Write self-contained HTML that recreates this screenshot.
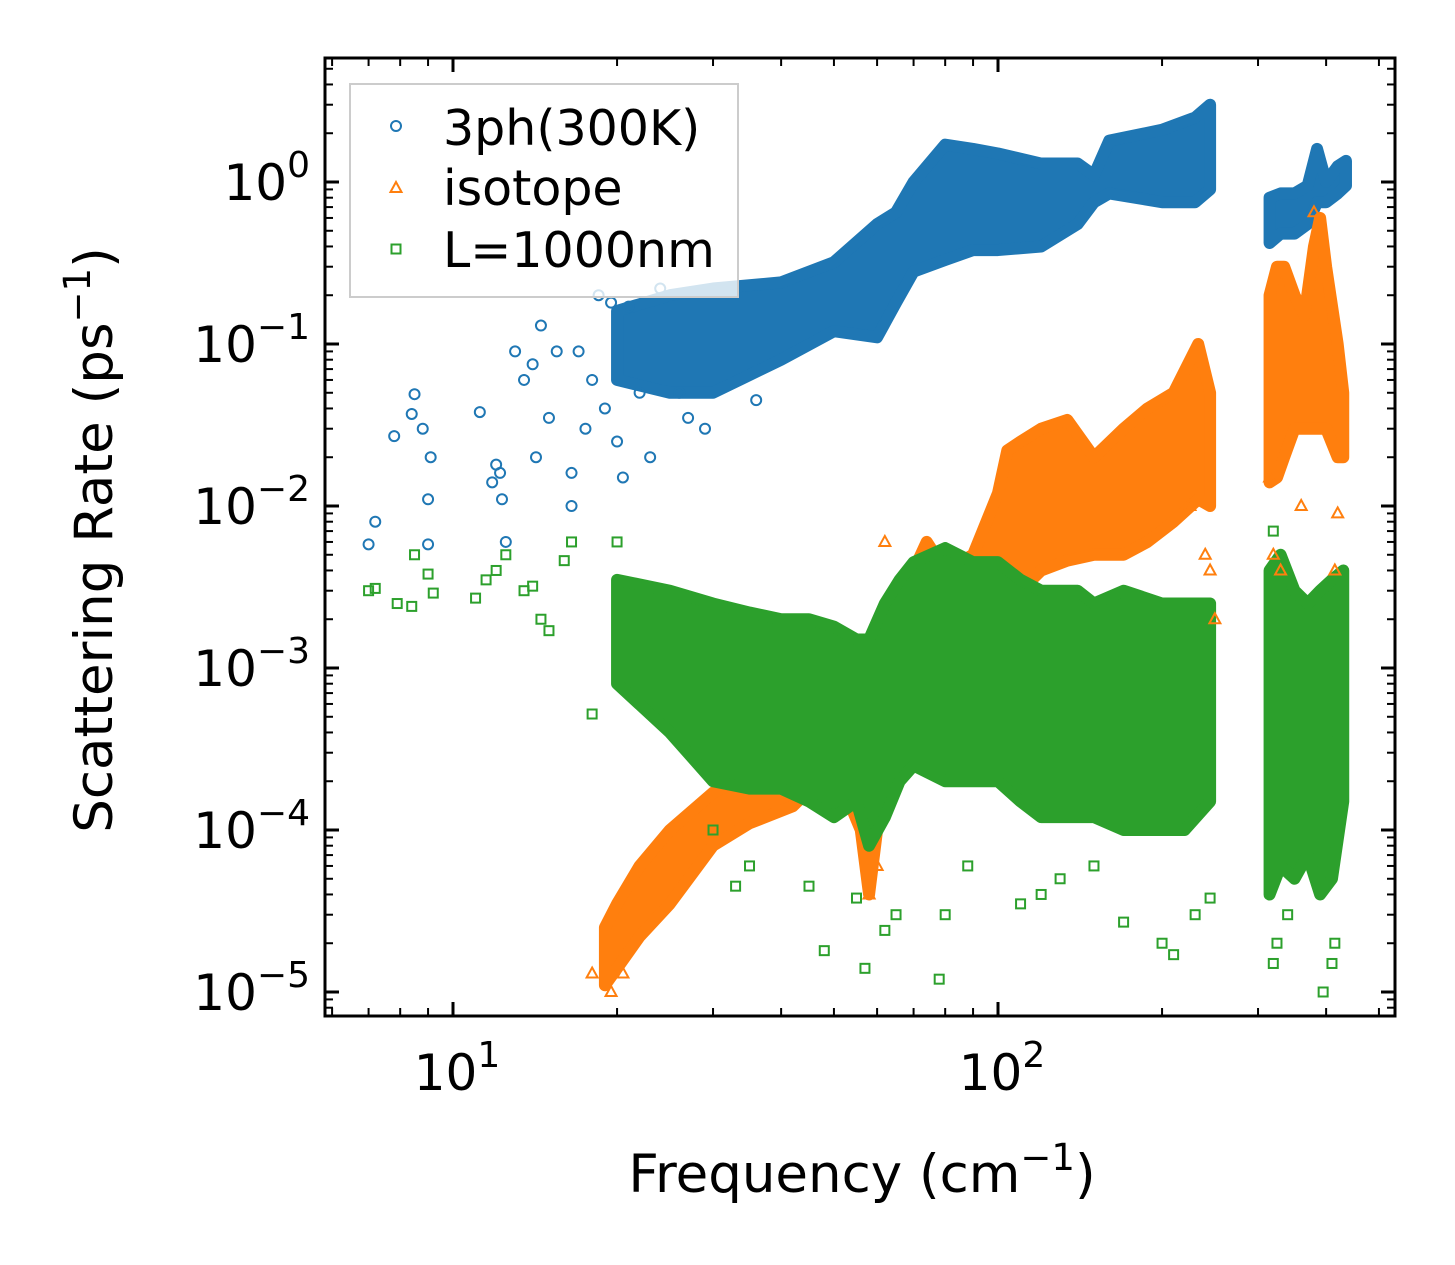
<!DOCTYPE html>
<html><head><meta charset="utf-8"><style>
body{margin:0;background:#fff}
svg{display:block;font-family:"DejaVu Sans","Liberation Sans",sans-serif}
</style></head><body>
<svg id="chart" width="1455" height="1265" viewBox="0 0 1455 1265" xmlns="http://www.w3.org/2000/svg">
<rect width="1455" height="1265" fill="#fff"/>
<g id="bands"></g><g id="points"></g><g id="axes"></g>
</svg>
<script>
// ---- data (frequency cm^-1, rate ps^-1) ----
const blueBandF = [20,25,30,40,50,60,65,70,80,90,100,120,140,150,160,200,230,245];
const blueBandLo = [0.06,0.05,0.05,0.08,0.12,0.11,0.18,0.28,0.33,0.38,0.38,0.4,0.55,0.75,0.85,0.75,0.75,0.9];
const blueBandHi = [0.16,0.2,0.22,0.24,0.32,0.55,0.65,1.0,1.7,1.6,1.5,1.3,1.3,1.1,1.8,2.1,2.5,3.0];
const blueBand2F = [315,330,350,370,385,400,420,435];
const blueBand2Lo = [0.42,0.48,0.48,0.55,0.75,0.75,0.85,0.95];
const blueBand2Hi = [0.8,0.85,0.85,0.95,1.6,1.0,1.25,1.35];
const orangeBandF = [19,20,22,25,30,35,42,50,56,58,60,65,70,74,80,90,100,104,110,120,134,150,170,188,210,233,245];
const orangeBandLo = [1.1e-5,1.4e-5,2.2e-5,3.5e-5,8e-5,1.1e-4,1.4e-4,2.5e-4,1e-4,4e-5,1e-4,3e-4,8e-4,1.5e-3,1.5e-3,1.5e-3,2e-3,2.6e-3,3e-3,4e-3,4.6e-3,5e-3,5e-3,6e-3,8e-3,1.1e-2,1e-2];
const orangeBandHi = [2.5e-5,3.5e-5,6e-5,1e-4,1.7e-4,2.2e-4,2.4e-4,5e-4,1.5e-3,2e-4,5e-4,2e-3,4e-3,6e-3,4e-3,5e-3,1.2e-2,2.2e-2,2.5e-2,3e-2,3.4e-2,2e-2,3e-2,4e-2,5e-2,0.1,5e-2];
const orangeBand2F = [315,325,335,350,365,380,390,400,420,430];
const orangeBand2Lo = [0.014,0.015,0.02,0.03,0.03,0.03,0.03,0.03,0.02,0.02];
const orangeBand2Hi = [0.2,0.3,0.3,0.2,0.15,0.4,0.6,0.3,0.1,0.05];
const greenBandF = [20,25,30,35,40,45,50,55,58,62,66,70,80,90,100,110,120,140,150,170,200,220,245];
const greenBandLo = [8e-4,4e-4,2e-4,1.8e-4,1.8e-4,1.5e-4,1.2e-4,1.5e-4,8e-5,1.2e-4,2e-4,2.5e-4,2e-4,2e-4,2e-4,1.5e-4,1.2e-4,1.2e-4,1.2e-4,1e-4,1e-4,1e-4,1.5e-4];
const greenBandHi = [3.5e-3,3e-3,2.5e-3,2.2e-3,2e-3,2e-3,1.8e-3,1.5e-3,1.5e-3,2.5e-3,3.5e-3,4.5e-3,5.5e-3,4.5e-3,4.5e-3,3.5e-3,3e-3,3e-3,2.5e-3,3e-3,2.5e-3,2.5e-3,2.5e-3];
const greenBand2F = [315,330,350,370,390,410,430];
const greenBand2Lo = [4e-5,6e-5,5e-5,7e-5,4e-5,5e-5,1.5e-4];
const greenBand2Hi = [4e-3,5e-3,3e-3,2.5e-3,3e-3,3.5e-3,4e-3];
const blueF = [7.0,7.2,7.8,8.4,8.5,8.8,9.0,9.1,9.0,11.2,11.8,12,12.3,12.5,12.2,13,13.5,14,14.5,14.2,15,15.5,16.5,16.5,17,17.5,18,18.5,19,20,20.5,22,23,19.5,21,24,26,27,29,36,31];
const blueR = [0.0058,0.008,0.027,0.037,0.049,0.03,0.011,0.02,0.0058,0.038,0.014,0.018,0.011,0.006,0.016,0.09,0.06,0.075,0.13,0.02,0.035,0.09,0.016,0.01,0.09,0.03,0.06,0.2,0.04,0.025,0.015,0.05,0.02,0.18,0.17,0.22,0.05,0.035,0.03,0.045,0.22];
const orangeF = [18,19.5,20.5,58,60,62,225,240,245,250,320,330,360,420,415,315,380];
const orangeR = [1.3e-5,1.0e-5,1.3e-5,4e-5,6e-5,6e-3,1e-2,5e-3,4e-3,2e-3,0.005,0.004,0.01,0.009,0.004,0.015,0.65];
const greenF = [7.0,7.2,7.9,8.4,8.5,9,9.2,11,11.5,12,12.5,13.5,14,14.5,15,16,16.5,18,20,25,30,33,35,45,48,55,57,62,65,78,80,88,110,120,130,150,170,200,210,230,245,320,325,340,395,410,415,320,400,420];
const greenR = [0.003,0.0031,0.0025,0.0024,0.005,0.0038,0.0029,0.0027,0.0035,0.004,0.005,0.003,0.0032,0.002,0.0017,0.0046,0.006,0.00052,0.006,0.0021,0.0001,0.000045,0.00006,0.000045,0.000018,0.000038,0.000014,0.000024,0.00003,0.000012,0.00003,0.00006,0.000035,0.00004,0.00005,0.00006,0.000027,0.00002,0.000017,0.00003,0.000038,0.000015,0.00002,0.00003,0.00001,0.000015,0.00002,0.007,0.0005,0.00035];
const xTickExp = [1,2];
const yTickExp = [0,-1,-2,-3,-4,-5];

// ---- axes ----
const L=325,R=1395,T=58,B=1016;
const X10=453, XDEC=545, Y0=182, YDEC=162;
const xs=f=>X10+(Math.log10(f)-1)*XDEC;
const ys=r=>Y0-Math.log10(r)*YDEC;
const NS='http://www.w3.org/2000/svg';
function mk(tag,attrs,parent){const e=document.createElementNS(NS,tag);for(const k in attrs)e.setAttribute(k,attrs[k]);parent.appendChild(e);return e;}
const bands=document.getElementById('bands'),pts=document.getElementById('points'),axes=document.getElementById('axes');
const svg=document.getElementById('chart');
const clip=mk('clipPath',{id:'pc'},svg);mk('rect',{x:L,y:T,width:R-L,height:B-T},clip);
bands.setAttribute('clip-path','url(#pc)');pts.setAttribute('clip-path','url(#pc)');

function band(F,Lo,Hi,color,name){
  let d='M'+F.map((f,i)=>xs(f)+','+ys(Hi[i])).join('L');
  for(let i=F.length-1;i>=0;i--)d+='L'+xs(F[i])+','+ys(Lo[i]);
  const p=mk('path',{d:d+'Z',fill:color,stroke:color,'stroke-width':12,'stroke-linejoin':'round'},bands);
  
  
}
function marker(type,cx,cy,color,parent){
  let e;
  if(type==='o')e=mk('circle',{cx:cx,cy:cy,r:5,fill:'none',stroke:color,'stroke-width':2},parent);
  else if(type==='^')e=mk('path',{d:`M${cx},${cy-6}L${cx+5.5},${cy+4}L${cx-5.5},${cy+4}Z`,fill:'none',stroke:color,'stroke-width':2},parent);
  else e=mk('rect',{x:cx-4.5,y:cy-4.5,width:9,height:9,fill:'none',stroke:color,'stroke-width':2},parent);
  return e;
}
function scatter(F,Rr,type,color,name){
  F.forEach((f,i)=>{const e=marker(type,xs(f),ys(Rr[i]),color,pts);
    
    });
}
const CB='#1f77b4',CO='#ff7f0e',CG='#2ca02c';
band(blueBandF,blueBandLo,blueBandHi,CB,'3ph-band');
band(blueBand2F,blueBand2Lo,blueBand2Hi,CB,'3ph-band-high');
scatter(blueF,blueR,'o',CB,'3ph-point');
band(orangeBandF,orangeBandLo,orangeBandHi,CO,'isotope-band');
band(orangeBand2F,orangeBand2Lo,orangeBand2Hi,CO,'isotope-band-high');
scatter(orangeF,orangeR,'^',CO,'isotope-point');
band(greenBandF,greenBandLo,greenBandHi,CG,'boundary-band');
band(greenBand2F,greenBand2Lo,greenBand2Hi,CG,'boundary-band-high');
scatter(greenF,greenR,'s',CG,'boundary-point');

const fr=mk('rect',{x:L,y:T,width:R-L,height:B-T,fill:'none',stroke:'#000','stroke-width':3},axes);


for(let e=0;e<=2;e++)for(let m=1;m<10;m++){
  const x=xs(m*Math.pow(10,e));if(x<L||x>R)continue;
  const len=m===1?14:8,w=m===1?3:2;
  mk('line',{x1:x,y1:B,x2:x,y2:B-len,stroke:'#000','stroke-width':w},axes);
  mk('line',{x1:x,y1:T,x2:x,y2:T+len,stroke:'#000','stroke-width':w},axes);
}
for(let e=-6;e<=1;e++)for(let m=1;m<10;m++){
  const y=ys(m*Math.pow(10,e));if(y<T||y>B)continue;
  const len=m===1?14:8,w=m===1?3:2;
  mk('line',{x1:L,y1:y,x2:L+len,y2:y,stroke:'#000','stroke-width':w},axes);
  mk('line',{x1:R,y1:y,x2:R-len,y2:y,stroke:'#000','stroke-width':w},axes);
}
xTickExp.forEach(e=>{
  const t=mk('text',{x:xs(Math.pow(10,e))+4,y:1090,'font-size':50,'text-anchor':'middle'},axes);
  
  
  t.innerHTML='10<tspan dy="-23" font-size="36">'+e+'</tspan>';
});
yTickExp.forEach(e=>{
  const t=mk('text',{x:310,y:ys(Math.pow(10,e))+18,'font-size':50,'text-anchor':'end'},axes);
  
  
  t.innerHTML='10<tspan dy="-23" font-size="36">'+(e<0?'\u2212'+(-e):e)+'</tspan>';
});
</script>
<svg style="position:absolute;left:0;top:0" width="1455" height="1265">
<text x="862" y="1192" font-size="53" text-anchor="middle" font-family="DejaVu Sans, Liberation Sans, sans-serif">Frequency (cm<tspan dy="-22" font-size="37">−1</tspan><tspan dy="22">)</tspan></text>
<text transform="translate(112,540) rotate(-90)" font-size="53" text-anchor="middle" font-family="DejaVu Sans, Liberation Sans, sans-serif">Scattering Rate (ps<tspan dy="-22" font-size="37">−1</tspan><tspan dy="22">)</tspan></text>
<g>
<rect x="350" y="84" width="388" height="213" fill="#fff" fill-opacity="0.8" stroke="#ccc" stroke-width="2"/>
<circle cx="396" cy="126" r="5" fill="none" stroke="#1f77b4" stroke-width="2"/>
<text x="443" y="145" font-size="49" font-family="DejaVu Sans, Liberation Sans, sans-serif">3ph(300K)</text>
<path d="M396,182L401.5,192L390.5,192Z" fill="none" stroke="#ff7f0e" stroke-width="2"/>
<text x="443" y="205" font-size="49" font-family="DejaVu Sans, Liberation Sans, sans-serif">isotope</text>
<rect x="391.5" y="244.5" width="9" height="9" fill="none" stroke="#2ca02c" stroke-width="2"/>
<text x="443" y="267" font-size="49" font-family="DejaVu Sans, Liberation Sans, sans-serif">L=1000nm</text>
</g>
</svg>
</body></html>
